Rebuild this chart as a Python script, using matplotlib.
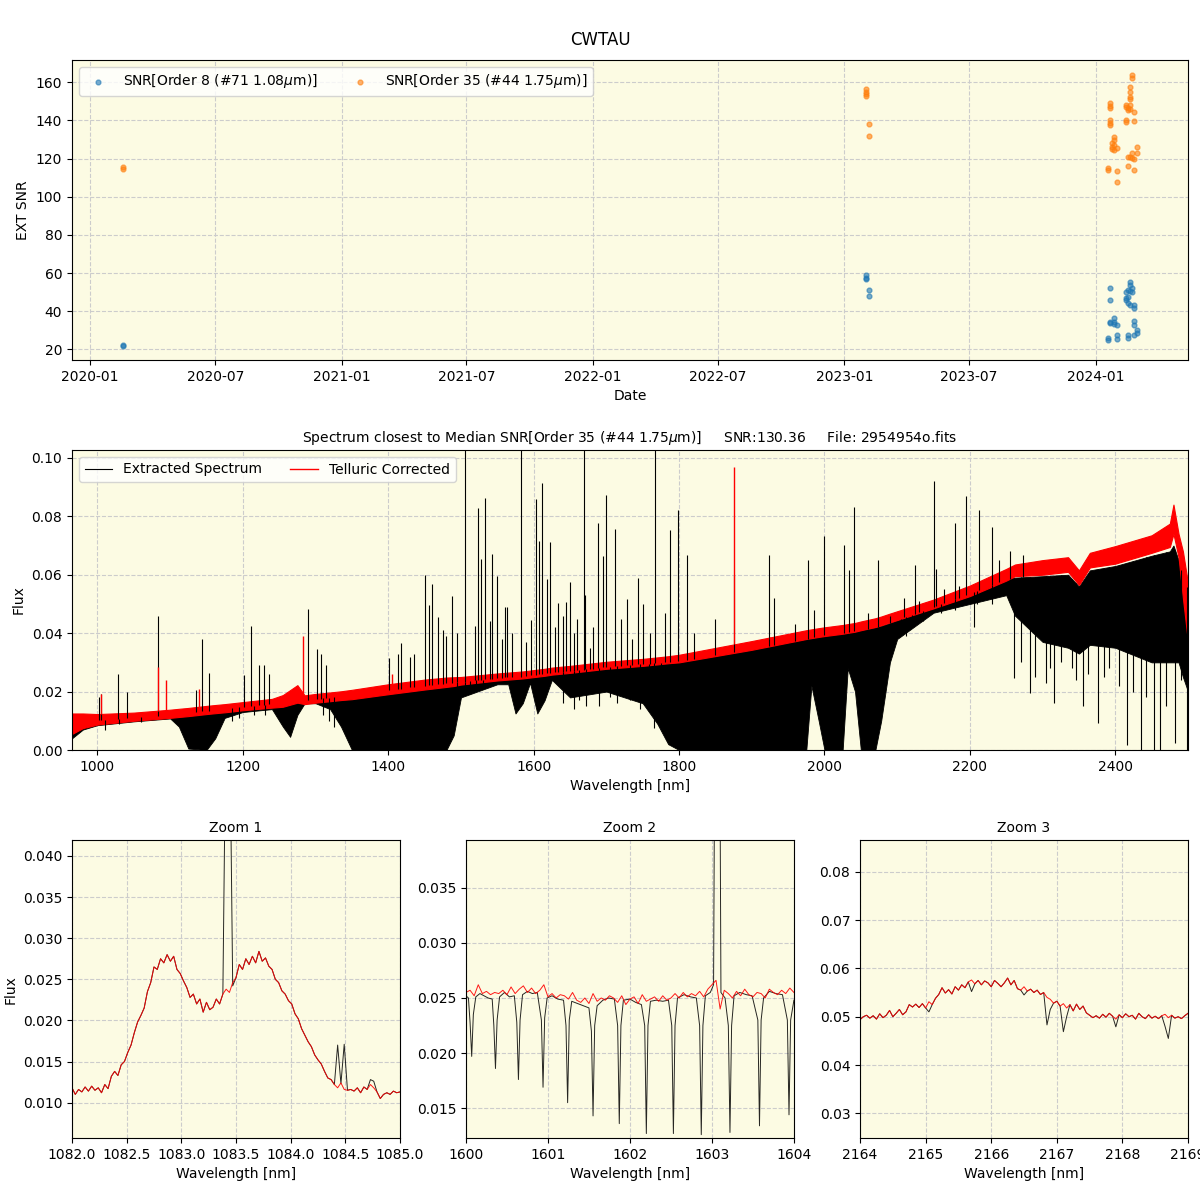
import matplotlib
matplotlib.use('Agg')
import matplotlib.pyplot as plt
import matplotlib.dates as mdates
from matplotlib.lines import Line2D
import numpy as np
import pandas as pd

plt.rcParams['font.family'] = ['DejaVu Sans']
BG = '#fcfbe3'

# ---------------- SNR time series ----------------
snr8_dates = ['2020-02-18', '2020-02-18',
              '2023-02-02', '2023-02-02', '2023-02-02', '2023-02-06', '2023-02-06',
              '2024-01-19', '2024-01-19',
              '2024-01-22', '2024-01-22', '2024-01-22', '2024-01-22',
              '2024-01-27', '2024-01-27', '2024-01-27',
              '2024-02-01', '2024-02-01', '2024-02-01',
              '2024-02-14', '2024-02-14', '2024-02-14',
              '2024-02-17', '2024-02-17', '2024-02-17', '2024-02-17', '2024-02-17',
              '2024-02-20', '2024-02-20', '2024-02-20', '2024-02-20',
              '2024-02-22', '2024-02-22',
              '2024-02-26', '2024-02-26', '2024-02-26', '2024-02-26', '2024-02-26',
              '2024-03-01', '2024-03-01']
snr8_vals = [22.1, 21.6,
             59.0, 57.6, 56.7, 51.3, 47.8,
             25.8, 24.9,
             52.3, 46.0, 34.5, 33.6,
             36.2, 34.5, 33.3,
             32.8, 27.5, 25.5,
             50.2, 46.7, 45.8,
             51.1, 47.6, 44.1, 27.5, 25.8,
             55.5, 53.7, 50.8, 43.3,
             52.0, 50.2,
             43.3, 41.5, 35.0, 32.8, 27.5,
             30.1, 28.7]

snr35_dates = ['2020-02-18', '2020-02-18',
               '2023-02-02', '2023-02-02', '2023-02-02', '2023-02-02', '2023-02-06', '2023-02-06',
               '2024-01-19', '2024-01-19',
               '2024-01-22', '2024-01-22', '2024-01-22', '2024-01-22', '2024-01-22', '2024-01-22',
               '2024-01-25', '2024-01-25', '2024-01-25',
               '2024-01-27', '2024-01-27', '2024-01-27', '2024-01-27',
               '2024-02-01', '2024-02-01', '2024-02-01',
               '2024-02-14', '2024-02-14', '2024-02-14', '2024-02-14',
               '2024-02-17', '2024-02-17', '2024-02-17', '2024-02-17',
               '2024-02-20', '2024-02-20', '2024-02-20', '2024-02-20', '2024-02-20', '2024-02-20', '2024-02-20',
               '2024-02-22', '2024-02-22', '2024-02-22', '2024-02-22',
               '2024-02-26', '2024-02-26', '2024-02-26', '2024-02-26',
               '2024-03-01', '2024-03-01']
snr35_vals = [115.4, 114.7,
              156.3, 155.1, 153.9, 152.8, 138.0, 131.9,
              114.9, 114.0,
              149.0, 147.6, 146.4, 140.2, 138.8, 137.6,
              128.0, 126.3, 125.2,
              131.5, 129.8, 127.1, 124.5,
              125.4, 113.7, 107.9,
              148.1, 146.9, 140.2, 139.4,
              146.4, 145.5, 120.7, 116.1,
              157.7, 155.1, 152.5, 151.1, 148.1, 145.8, 121.0,
              163.8, 162.1, 122.8, 120.1,
              144.6, 139.7, 119.6, 114.0,
              126.3, 122.8]

# ---------------- full spectrum (read envelope values) ----------------
wl_main = [965, 980, 1000, 1050, 1100, 1112, 1125, 1150, 1162, 1175,
           1200, 1240, 1255, 1265, 1275, 1285, 1300, 1320, 1335, 1350,
           1400, 1450, 1480, 1490, 1500, 1550, 1565, 1575, 1585, 1595,
           1605, 1615, 1625, 1650, 1700, 1750, 1770, 1785, 1800, 1900,
           1975, 1982, 1992, 2000, 2025, 2032, 2042, 2050, 2070, 2078,
           2090, 2100, 2150, 2200, 2250, 2262, 2300, 2335, 2350, 2365,
           2400, 2450, 2475, 2480, 2487, 2493, 2500]
red_lo = [0.0055, 0.0075, 0.0087, 0.0100, 0.0110, 0.0113, 0.0116, 0.0123, 0.0126, 0.0129,
          0.0136, 0.0145, 0.0148, 0.0155, 0.0162, 0.0157, 0.0162, 0.0167, 0.0171, 0.0174,
          0.0191, 0.0207, 0.0216, 0.0219, 0.0224, 0.0238, 0.0241, 0.0243, 0.0245, 0.0248,
          0.0251, 0.0254, 0.0258, 0.0264, 0.0278, 0.0288, 0.0293, 0.0297, 0.0300, 0.0343,
          0.0380, 0.0383, 0.0387, 0.0390, 0.0398, 0.0401, 0.0405, 0.0410, 0.0421, 0.0427,
          0.0437, 0.0445, 0.0485, 0.0527, 0.0580, 0.0595, 0.0600, 0.0610, 0.0565, 0.0625,
          0.0638, 0.0675, 0.0695, 0.0740, 0.0660, 0.0520, 0.0370]
red_hi = [0.0125, 0.0125, 0.0123, 0.0128, 0.0138, 0.0141, 0.0144, 0.0151, 0.0154, 0.0157,
          0.0164, 0.0175, 0.0188, 0.0205, 0.0222, 0.0187, 0.0192, 0.0197, 0.0201, 0.0206,
          0.0225, 0.0241, 0.0248, 0.0249, 0.0250, 0.0262, 0.0265, 0.0267, 0.0269, 0.0272,
          0.0275, 0.0278, 0.0282, 0.0288, 0.0302, 0.0312, 0.0317, 0.0321, 0.0326, 0.0373,
          0.0410, 0.0413, 0.0417, 0.0420, 0.0428, 0.0431, 0.0435, 0.0440, 0.0451, 0.0457,
          0.0467, 0.0475, 0.0515, 0.0563, 0.0620, 0.0635, 0.0650, 0.0660, 0.0615, 0.0675,
          0.0698, 0.0735, 0.0775, 0.0840, 0.0740, 0.0680, 0.0570]
blk_hi = [0.0085, 0.0095, 0.0102, 0.0111, 0.0121, 0.0124, 0.0127, 0.0134, 0.0137, 0.0140,
          0.0147, 0.0157, 0.0160, 0.0165, 0.0170, 0.0168, 0.0174, 0.0179, 0.0183, 0.0187,
          0.0205, 0.0220, 0.0228, 0.0230, 0.0233, 0.0246, 0.0249, 0.0250, 0.0252, 0.0256,
          0.0258, 0.0261, 0.0265, 0.0270, 0.0284, 0.0294, 0.0298, 0.0302, 0.0305, 0.0345,
          0.0380, 0.0385, 0.0390, 0.0392, 0.0400, 0.0403, 0.0407, 0.0410, 0.0420, 0.0425,
          0.0435, 0.0445, 0.0490, 0.0535, 0.0585, 0.0590, 0.0595, 0.0600, 0.0560, 0.0615,
          0.0630, 0.0665, 0.0680, 0.0700, 0.0650, 0.0600, 0.0550]
blk_lo = [0.0040, 0.0070, 0.0085, 0.0098, 0.0108, 0.0080, 0.0005, 0.0000, 0.0040, 0.0110,
          0.0130, 0.0140, 0.0080, 0.0045, 0.0120, 0.0160, 0.0160, 0.0140, 0.0080, 0.0000,
          0.0000, 0.0000, 0.0000, 0.0050, 0.0180, 0.0225, 0.0225, 0.0125, 0.0160, 0.0230,
          0.0125, 0.0170, 0.0240, 0.0180, 0.0200, 0.0160, 0.0090, 0.0020, 0.0000, 0.0000,
          0.0000, 0.0220, 0.0100, 0.0000, 0.0000, 0.0280, 0.0200, 0.0000, 0.0000, 0.0100,
          0.0300, 0.0380, 0.0470, 0.0500, 0.0530, 0.0460, 0.0370, 0.0350, 0.0330, 0.0360,
          0.0350, 0.0300, 0.0300, 0.0300, 0.0300, 0.0250, 0.0200]

# emission spikes in the extracted spectrum
em_wl = [1002, 1005, 1028, 1040, 1083, 1135, 1144, 1154, 1201, 1211,
         1222, 1229, 1236, 1290, 1302, 1308, 1315, 1401, 1413, 1417,
         1430, 1436, 1451, 1456, 1460, 1469, 1475, 1480, 1488, 1494,
         1505, 1519, 1524, 1528, 1533, 1540, 1543, 1550, 1556, 1561,
         1564, 1570, 1583, 1590, 1596, 1603, 1608, 1612, 1618, 1623,
         1630, 1634, 1640, 1644, 1650, 1655, 1660, 1669, 1671, 1678,
         1682, 1689, 1695, 1700, 1712, 1720, 1728, 1735, 1744, 1750,
         1760, 1767, 1780, 1787, 1799, 1811, 1820, 1850, 1875, 1924,
         1930, 1960, 1977, 1985, 2000, 2027, 2034, 2041, 2060, 2073,
         2090, 2110, 2124, 2130, 2150, 2153, 2165, 2179, 2185, 2195,
         2212, 2231, 2240, 2255, 2273]
em_pk = [0.018, 0.019, 0.026, 0.020, 0.046, 0.0206, 0.038, 0.0263, 0.0257, 0.0425,
         0.029, 0.029, 0.026, 0.0483, 0.0345, 0.033, 0.029, 0.0314, 0.033, 0.0368,
         0.032, 0.033, 0.0599, 0.0495, 0.0569, 0.0457, 0.041, 0.039, 0.0528, 0.040,
         0.11, 0.0423, 0.0829, 0.0654, 0.0863, 0.044, 0.0671, 0.0597, 0.038, 0.0491,
         0.0491, 0.040, 0.11, 0.037, 0.0446, 0.086, 0.0714, 0.0914, 0.0585, 0.0712,
         0.042, 0.0503, 0.046, 0.0505, 0.0575, 0.040, 0.045, 0.11, 0.053, 0.035,
         0.042, 0.0777, 0.0663, 0.0874, 0.0757, 0.045, 0.0517, 0.038, 0.0589, 0.050,
         0.040, 0.11, 0.047, 0.0754, 0.0823, 0.0666, 0.040, 0.045, 0.060, 0.0669,
         0.052, 0.043, 0.0651, 0.048, 0.0731, 0.0703, 0.0617, 0.0832, 0.047, 0.0651,
         0.046, 0.052, 0.0634, 0.051, 0.0922, 0.062, 0.055, 0.0777, 0.056, 0.0871,
         0.0821, 0.0763, 0.065, 0.068, 0.0669]

# telluric dips outside the saturated bands
dip_wl = [1010, 1030, 1060, 1185, 1195, 1215, 1230, 1310, 1318, 1325,
          1495, 1505, 1512, 1520, 1530, 1640, 1655, 1662, 1672, 1690,
          1705, 1715, 1732, 1746, 1758, 1765, 1775, 2105, 2112, 2120,
          2135, 2160, 2180, 2205, 2210, 2230, 2261, 2270, 2283, 2290,
          2304, 2310, 2316, 2325, 2340, 2346, 2355, 2362, 2376, 2385,
          2392, 2405, 2416, 2425, 2435, 2442, 2453, 2462, 2470, 2482,
          2491, 2499]
dip_lo = [0.007, 0.009, 0.0095, 0.010, 0.011, 0.012, 0.012, 0.012, 0.010, 0.008,
          0.012, 0.019, 0.019, 0.021, 0.021, 0.016, 0.014, 0.017, 0.015, 0.015,
          0.018, 0.016, 0.017, 0.014, 0.018, 0.0074, 0.010, 0.040, 0.039, 0.042,
          0.044, 0.047, 0.048, 0.042, 0.050, 0.050, 0.0246, 0.030, 0.0194, 0.025,
          0.0229, 0.028, 0.016, 0.030, 0.028, 0.024, 0.0149, 0.026, 0.0091, 0.025,
          0.028, 0.022, 0.0017, 0.020, 0.0, 0.018, 0.0, 0.0, 0.015, 0.0023,
          0.024, 0.0]

# emission spikes that survive in the telluric-corrected spectrum
red_em_wl = [1005, 1083, 1094, 1140, 1283, 1405, 1875, 1925, 2177]
red_em_pk = [0.019, 0.0285, 0.024, 0.021, 0.039, 0.026, 0.097, 0.038, 0.054]

# ---------------- zoom 1 : He I 1083 ----------------
z1_wl = np.round(np.arange(1082.0, 1085.001, 0.03), 2)
z1_red = [0.0118, 0.0110, 0.0116, 0.0113, 0.0119, 0.0114, 0.0120, 0.0115, 0.0118, 0.0112,
          0.0122, 0.0117, 0.0132, 0.0138, 0.0133, 0.0146, 0.0150, 0.0161, 0.0170, 0.0185,
          0.0198, 0.0206, 0.0215, 0.0235, 0.0246, 0.0265, 0.0262, 0.0275, 0.0270, 0.0280,
          0.0272, 0.0278, 0.0262, 0.0257, 0.0248, 0.0240, 0.0228, 0.0232, 0.0220, 0.0226,
          0.0210, 0.0222, 0.0213, 0.0216, 0.0226, 0.0220, 0.0232, 0.0238, 0.0234, 0.0246,
          0.0252, 0.0268, 0.0262, 0.0275, 0.0268, 0.0278, 0.0270, 0.0284, 0.0272, 0.0276,
          0.0266, 0.0262, 0.0250, 0.0246, 0.0236, 0.0232, 0.0224, 0.0220, 0.0208, 0.0202,
          0.0190, 0.0182, 0.0174, 0.0168, 0.0158, 0.0152, 0.0147, 0.0138, 0.0130, 0.0128,
          0.0122, 0.0118, 0.0124, 0.0116, 0.0115, 0.0116, 0.0114, 0.0118, 0.0112, 0.0119,
          0.0116, 0.0122, 0.0118, 0.0113, 0.0105, 0.0110, 0.0112, 0.0110, 0.0114, 0.0112,
          0.0113]
z1_blk_wl = [1083.41, 1083.44, 1083.47, 1084.43, 1084.46, 1084.49, 1084.73, 1084.76]
z1_blk_fx = [0.06, 0.06, 0.0242, 0.0170, 0.0123, 0.0171, 0.0128, 0.0126]

# ---------------- zoom 2 : 1600-1604 ----------------
z2_wl = np.round(np.arange(1600.0, 1604.001, 0.05), 2)
z2_red = [0.0255, 0.0257, 0.0252, 0.0262, 0.0254, 0.0256, 0.0253, 0.0255, 0.0254, 0.0257,
          0.0253, 0.0260, 0.0254, 0.0258, 0.0261, 0.0255, 0.0259, 0.0254, 0.0257, 0.0262,
          0.0251, 0.0254, 0.0250, 0.0253, 0.0252, 0.0249, 0.0255, 0.0248, 0.0246, 0.0250,
          0.0245, 0.0254, 0.0247, 0.0250, 0.0248, 0.0252, 0.0250, 0.0246, 0.0252, 0.0244,
          0.0249, 0.0251, 0.0245, 0.0253, 0.0247, 0.0249, 0.0251, 0.0247, 0.0252, 0.0248,
          0.0250, 0.0254, 0.0250, 0.0255, 0.0251, 0.0254, 0.0252, 0.0256, 0.0251, 0.0258,
          0.0262, 0.0266, 0.0240, 0.0257, 0.0254, 0.0250, 0.0256, 0.0252, 0.0258, 0.0253,
          0.0251, 0.0255, 0.0254, 0.0250, 0.0258, 0.0255, 0.0253, 0.0257, 0.0254, 0.0259,
          0.0255]
z2_blk_wl = [1600.00, 1600.03, 1600.05, 1600.07, 1600.09, 1600.12, 1600.17, 1600.22, 1600.27, 1600.32,
             1600.34, 1600.36, 1600.38, 1600.41, 1600.47, 1600.53, 1600.59, 1600.62, 1600.64, 1600.66,
             1600.69, 1600.75, 1600.81, 1600.87, 1600.92, 1600.94, 1600.96, 1600.99, 1601.05, 1601.12,
             1601.19, 1601.22, 1601.24, 1601.26, 1601.29, 1601.36, 1601.43, 1601.50, 1601.53, 1601.55,
             1601.57, 1601.60, 1601.67, 1601.74, 1601.81, 1601.85, 1601.87, 1601.89, 1601.92, 1602.00,
             1602.07, 1602.14, 1602.18, 1602.20, 1602.22, 1602.25, 1602.32, 1602.40, 1602.47, 1602.51,
             1602.53, 1602.55, 1602.58, 1602.66, 1602.74, 1602.81, 1602.85, 1602.87, 1602.89, 1602.92,
             1602.98, 1603.02, 1603.03, 1603.10, 1603.11, 1603.16, 1603.20, 1603.22, 1603.24, 1603.27,
             1603.34, 1603.42, 1603.49, 1603.56, 1603.58, 1603.60, 1603.63, 1603.70, 1603.78, 1603.86,
             1603.92, 1603.94, 1603.96, 1604.00]
z2_blk_fx = [0.0252, 0.0250, 0.0228, 0.0197, 0.0235, 0.0251, 0.0254, 0.0252, 0.0250, 0.0249,
             0.0225, 0.0186, 0.0230, 0.0251, 0.0255, 0.0251, 0.0252, 0.0228, 0.0176, 0.0230,
             0.0253, 0.0256, 0.0254, 0.0255, 0.0230, 0.0169, 0.0232, 0.0250, 0.0252, 0.0249,
             0.0248, 0.0225, 0.0155, 0.0230, 0.0247, 0.0245, 0.0243, 0.0241, 0.0220, 0.0143,
             0.0225, 0.0243, 0.0248, 0.0250, 0.0249, 0.0225, 0.0136, 0.0225, 0.0248, 0.0249,
             0.0246, 0.0244, 0.0225, 0.0127, 0.0225, 0.0247, 0.0248, 0.0247, 0.0248, 0.0225,
             0.0127, 0.0225, 0.0250, 0.0253, 0.0251, 0.0250, 0.0225, 0.0126, 0.0225, 0.0252,
             0.0255, 0.0262, 0.0420, 0.0420, 0.0255, 0.0250, 0.0225, 0.0128, 0.0225, 0.0252,
             0.0255, 0.0253, 0.0252, 0.0230, 0.0134, 0.0230, 0.0250, 0.0256, 0.0254, 0.0253,
             0.0230, 0.0144, 0.0230, 0.0248]

# ---------------- zoom 3 : Br gamma ----------------
z3_wl = np.round(np.arange(2164.0, 2169.001, 0.05), 2)
z3_red = [0.0494, 0.0500, 0.0503, 0.0497, 0.0502, 0.0495, 0.0506, 0.0498, 0.0503, 0.0513,
          0.0500, 0.0507, 0.0515, 0.0504, 0.0510, 0.0525, 0.0520, 0.0526, 0.0519, 0.0527,
          0.0518, 0.0531, 0.0525, 0.0538, 0.0546, 0.0560, 0.0549, 0.0556, 0.0547, 0.0562,
          0.0555, 0.0566, 0.0560, 0.0572, 0.0576, 0.0568, 0.0575, 0.0566, 0.0574, 0.0570,
          0.0562, 0.0575, 0.0569, 0.0562, 0.0570, 0.0580, 0.0566, 0.0575, 0.0558, 0.0555,
          0.0562, 0.0553, 0.0557, 0.0550, 0.0555, 0.0546, 0.0550, 0.0540, 0.0536, 0.0528,
          0.0532, 0.0522, 0.0527, 0.0518, 0.0525, 0.0512, 0.0526, 0.0515, 0.0522, 0.0508,
          0.0503, 0.0498, 0.0502, 0.0497, 0.0505, 0.0499, 0.0507, 0.0501, 0.0495, 0.0504,
          0.0498, 0.0506, 0.0500, 0.0503, 0.0495, 0.0507, 0.0500, 0.0496, 0.0504, 0.0497,
          0.0501, 0.0496, 0.0502, 0.0505, 0.0498, 0.0503, 0.0497, 0.0500, 0.0496, 0.0502,
          0.0507]
z3_blk_wl = [2165.05, 2165.70, 2166.50, 2166.85, 2166.90, 2167.10, 2167.15, 2167.90, 2168.65, 2168.70]
z3_blk_fx = [0.0510, 0.0552, 0.0545, 0.0483, 0.0515, 0.0469, 0.0500, 0.0479, 0.0480, 0.0455]


def with_changes(wl, base, ch_wl, ch_fx):
    out = np.array(base, dtype=float)
    for w, f in zip(ch_wl, ch_fx):
        out[np.isclose(wl, w)] = f
    return out


def style(ax):
    ax.set_facecolor(BG)
    ax.grid(True, ls='--', color='#cccccc', lw=0.8)
    ax.set_axisbelow(True)


fig = plt.figure(figsize=(12, 12), dpi=100)
fig.suptitle('CWTAU', y=0.974, fontsize=12)

# ---- top: SNR vs date ----
ax1 = fig.add_axes([0.06, 0.70, 0.93, 0.25])
style(ax1)
ax1.scatter(pd.to_datetime(snr8_dates), snr8_vals, s=12, alpha=0.6, color='#1f77b4',
            label=r'SNR[Order 8 (#71 1.08$\mu$m)]')
ax1.scatter(pd.to_datetime(snr35_dates), snr35_vals, s=12, alpha=0.6, color='#ff7f0e',
            label=r'SNR[Order 35 (#44 1.75$\mu$m)]')
ax1.set_xlim(pd.Timestamp('2019-12-06'), pd.Timestamp('2024-05-14'))
ax1.set_ylim(14.4, 171.7)
ax1.xaxis.set_major_locator(mdates.MonthLocator(bymonth=[1, 7]))
ax1.xaxis.set_major_formatter(mdates.DateFormatter('%Y-%m'))
ax1.set_xlabel('Date')
ax1.set_ylabel('EXT SNR')
ax1.legend(loc='upper left', ncol=2)

# ---- middle: full spectrum ----
ax2 = fig.add_axes([0.06, 0.375, 0.93, 0.25])
style(ax2)
ax2.fill_between(wl_main, blk_lo, blk_hi, color='black', lw=0.6)
dip_top = np.interp(dip_wl, wl_main, blk_hi)
ax2.vlines(dip_wl, dip_lo, dip_top, color='black', lw=0.8)
em_base = np.interp(em_wl, wl_main, blk_hi)
ax2.vlines(em_wl, em_base, em_pk, color='black', lw=0.8)
ax2.fill_between(wl_main, red_lo, red_hi, color='red', lw=0.8)
red_base = np.interp(red_em_wl, wl_main, red_hi)
ax2.vlines(red_em_wl, red_base, red_em_pk, color='red', lw=1.0)
ax2.set_xlim(965, 2500)
ax2.set_ylim(0, 0.1027)
ax2.set_xlabel('Wavelength [nm]')
ax2.set_ylabel('Flux')
ax2.set_title(r'Spectrum closest to Median SNR[Order 35 (#44 1.75$\mu$m)]     SNR:130.36     File: 2954954o.fits',
              fontsize=10)
handles = [Line2D([], [], color='black', lw=0.8), Line2D([], [], color='#ff0000', lw=1.0)]
ax2.legend(handles, ['Extracted Spectrum', 'Telluric Corrected'], loc='upper left', ncol=2)

# ---- bottom: zooms ----
w = 0.2733
z_lefts = [0.06, 0.3883, 0.7167]
zooms = [
    (z1_wl, with_changes(z1_wl, z1_red, z1_blk_wl, z1_blk_fx), z1_wl, z1_red, (1082, 1085), (0.0057, 0.0419)),
    (z2_blk_wl, z2_blk_fx, z2_wl, z2_red, (1600, 1604), (0.0123, 0.0393)),
    (z3_wl, with_changes(z3_wl, z3_red, z3_blk_wl, z3_blk_fx), z3_wl, z3_red, (2164, 2169), (0.0249, 0.0865)),
]
for i, (bw, bf, rw, rf, xl, yl) in enumerate(zooms):
    ax = fig.add_axes([z_lefts[i], 0.0517, w, 0.248])
    style(ax)
    ax.plot(bw, bf, color='black', lw=0.7, alpha=0.85)
    ax.plot(rw, rf, color='red', lw=0.7, alpha=0.9)
    ax.set_xlim(*xl)
    ax.set_ylim(*yl)
    ax.set_title(f'Zoom {i + 1}', fontsize=10)
    ax.set_xlabel('Wavelength [nm]')
    if i == 0:
        ax.set_ylabel('Flux')
        ax.set_xticks([1082.0, 1082.5, 1083.0, 1083.5, 1084.0, 1084.5, 1085.0])
        ax.xaxis.set_major_formatter(plt.FormatStrFormatter('%.1f'))
        ax.yaxis.set_major_formatter(plt.FormatStrFormatter('%.3f'))
    elif i == 1:
        ax.set_xticks([1600, 1601, 1602, 1603, 1604])
        ax.yaxis.set_major_formatter(plt.FormatStrFormatter('%.3f'))
    else:
        ax.set_xticks([2164, 2165, 2166, 2167, 2168, 2169])
        ax.yaxis.set_major_formatter(plt.FormatStrFormatter('%.2f'))

fig.savefig('out.png', dpi=100)
